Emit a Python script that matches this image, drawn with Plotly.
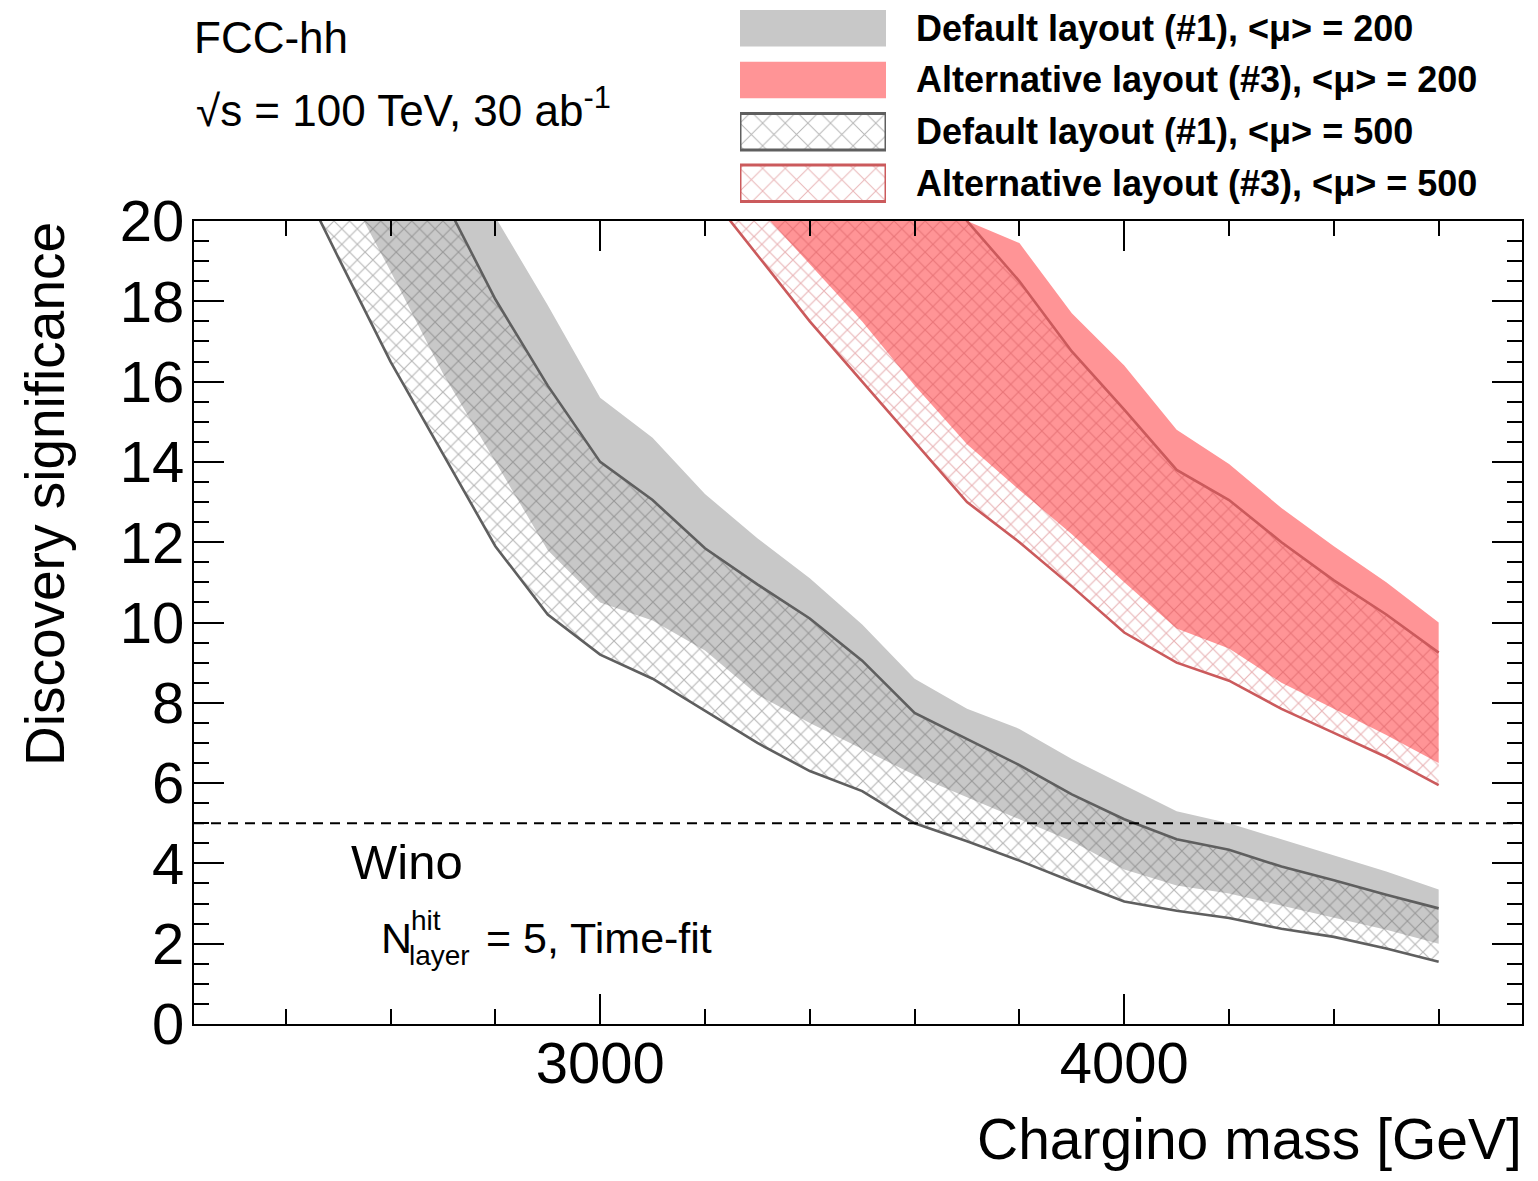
import plotly.graph_objects as go

# page has an 8px body margin: figure fills the rest of the 1538x1181 window
OFF = 8
W, H = 1538 - 2 * OFF, 1181 - 2 * OFF

# ---------------- data ----------------
mass_g200 = [2500, 2600, 2700, 2800, 2900, 3000, 3100, 3200, 3300, 3400, 3500,
             3600, 3700, 3800, 3900, 4000, 4100, 4200, 4300, 4400, 4500, 4600]
g200_lo = [21.2, 18.75, 16.2, 14.0, 11.8, 10.5, 10.05, 9.3, 8.2, 7.5, 6.85,
           6.2, 5.65, 5.1, 4.55, 3.85, 3.45, 3.25, 2.95, 2.65, 2.35, 2.0]
g200_hi = [27.0, 24.6, 22.4, 20.1, 17.9, 15.6, 14.6, 13.2, 12.1, 11.1, 9.95,
           8.6, 7.85, 7.35, 6.6, 5.95, 5.3, 5.0, 4.6, 4.2, 3.8, 3.35]

mass_g500 = [2400, 2500, 2600, 2700, 2800, 2900, 3000, 3100, 3200, 3300, 3400, 3500,
             3600, 3700, 3800, 3900, 4000, 4100, 4200, 4300, 4400, 4500, 4600]
g500_lo = [21.75, 19.1, 16.5, 14.2, 11.9, 10.2, 9.2, 8.6, 7.8, 7.0, 6.3, 5.8,
           5.0, 4.55, 4.07, 3.55, 3.05, 2.82, 2.64, 2.37, 2.17, 1.88, 1.55]
g500_hi = [27.5, 25.3, 23.0, 20.6, 18.05, 15.9, 14.0, 13.05, 11.85, 10.95, 10.1, 9.05,
           7.75, 7.1, 6.45, 5.72, 5.1, 4.6, 4.34, 3.92, 3.58, 3.22, 2.88]

mass_r200 = [3300, 3400, 3500, 3600, 3700, 3800, 3900, 4000, 4100, 4200, 4300, 4400, 4500, 4600]
r200_lo = [20.35, 18.93, 17.5, 15.9, 14.44, 13.3, 12.2, 11.0, 9.85, 9.35, 8.5, 7.85, 7.2, 6.5]
r200_hi = [27.0, 25.5, 23.5, 21.8, 20.0, 19.45, 17.7, 16.4, 14.8, 13.95, 12.85, 11.9, 11.0, 10.0]

mass_r500 = [3200, 3300, 3400, 3500, 3600, 3700, 3800, 3900, 4000, 4100, 4200, 4300, 4400, 4500, 4600]
r500_lo = [20.8, 19.14, 17.5, 16.0, 14.5, 13.0, 12.0, 10.9, 9.75, 9.0, 8.55, 7.85, 7.25, 6.65, 5.95]
r500_hi = [28.0, 26.5, 25.0, 23.6, 22.0, 20.0, 18.5, 16.75, 15.3, 13.8, 13.05, 12.0, 11.05, 10.2, 9.25]

legend_labels = ["Default layout (#1), <μ> = 200",
                 "Alternative layout (#3), <μ> = 200",
                 "Default layout (#1), <μ> = 500",
                 "Alternative layout (#3), <μ> = 500"]

discovery_level = 5

# ---------------- styles ----------------
GRAY_FILL = "rgb(200,200,200)"
RED_FILL = "rgb(255,148,150)"
GRAY_LINE = "rgb(95,95,95)"
RED_LINE = "rgb(203,90,92)"
FONT = "Liberation Sans, Arial, Helvetica, sans-serif"

# plot area in window pixels
X0, X1 = 194, 1522
Y0, Y1 = 221, 1024


def px_x(p):
    return (p - OFF) / W


def px_y(p):
    return 1 - (p - OFF) / H


def band(x, lo, hi):
    return list(x) + list(x)[::-1], list(lo) + list(hi)[::-1]


GRAY_HATCH = dict(shape="x", fgcolor="rgb(95,95,95)", fgopacity=0.45,
                  bgcolor="rgba(0,0,0,0)", size=11, solidity=0.2, fillmode="replace")
RED_HATCH = dict(shape="x", fgcolor="rgb(200,70,75)", fgopacity=0.4,
                 bgcolor="rgba(0,0,0,0)", size=11, solidity=0.2, fillmode="replace")

fig = go.Figure()

# solid bands (<mu> = 200)
bx, by = band(mass_g200, g200_lo, g200_hi)
fig.add_trace(go.Scatter(x=bx, y=by, fill="toself", fillcolor=GRAY_FILL,
                         line=dict(width=0), mode="lines", showlegend=False, hoverinfo="skip"))
bx, by = band(mass_r200, r200_lo, r200_hi)
fig.add_trace(go.Scatter(x=bx, y=by, fill="toself", fillcolor=RED_FILL,
                         line=dict(width=0), mode="lines", showlegend=False, hoverinfo="skip"))

# hatched bands (<mu> = 500)
bx, by = band(mass_g500, g500_lo, g500_hi)
fig.add_trace(go.Scatter(x=bx, y=by, fill="toself", fillcolor="rgba(0,0,0,0)",
                         fillpattern=GRAY_HATCH,
                         line=dict(width=0), mode="lines", showlegend=False, hoverinfo="skip"))
bx, by = band(mass_r500, r500_lo, r500_hi)
fig.add_trace(go.Scatter(x=bx, y=by, fill="toself", fillcolor="rgba(0,0,0,0)",
                         fillpattern=RED_HATCH,
                         line=dict(width=0), mode="lines", showlegend=False, hoverinfo="skip"))

# hatched-band border lines
for xs, ys, col in [(mass_g500, g500_lo, GRAY_LINE), (mass_g500, g500_hi, GRAY_LINE),
                    (mass_r500, r500_lo, RED_LINE), (mass_r500, r500_hi, RED_LINE)]:
    fig.add_trace(go.Scatter(x=xs, y=ys, mode="lines", line=dict(color=col, width=2.6),
                             showlegend=False, hoverinfo="skip"))

# 5 sigma dashed line
fig.add_shape(type="line", xref="paper", yref="y", x0=px_x(X0), x1=px_x(X1),
              y0=discovery_level, y1=discovery_level,
              line=dict(color="black", width=1.8, dash="10px,7px"))

# ---------------- custom legend (separate small axes) ----------------
ROW = 51.7
leg_top = 10
fig.update_layout(
    xaxis2=dict(domain=[px_x(740), px_x(886)], range=[0, 1], visible=False,
                fixedrange=True, anchor="y2", automargin=False),
    yaxis2=dict(domain=[px_y(leg_top + 4 * ROW), px_y(leg_top)], range=[4, 0],
                visible=False, fixedrange=True, anchor="x2", automargin=False),
)
box_h = 36.5 / ROW
lg_gray_hatch = dict(GRAY_HATCH, size=16, solidity=0.12)
lg_red_hatch = dict(RED_HATCH, size=16, solidity=0.12)
swatch_styles = [
    dict(fillcolor=GRAY_FILL, line=dict(width=0)),
    dict(fillcolor=RED_FILL, line=dict(width=0)),
    dict(fillcolor="rgba(0,0,0,0)", line=dict(width=3, color=GRAY_LINE), fillpattern=lg_gray_hatch),
    dict(fillcolor="rgba(0,0,0,0)", line=dict(width=3, color=RED_LINE), fillpattern=lg_red_hatch),
]
for i, (lab, st) in enumerate(zip(legend_labels, swatch_styles)):
    fig.add_trace(go.Scatter(x=[0, 1, 1, 0, 0], y=[i, i, i + box_h, i + box_h, i],
                             xaxis="x2", yaxis="y2", mode="lines", fill="toself",
                             showlegend=False, hoverinfo="skip", **st))
    fig.add_annotation(xref="paper", yref="paper", x=px_x(914),
                       y=px_y(leg_top + i * ROW + box_h * ROW / 2),
                       text="<b>" + lab.replace("<", "&lt;").replace(">", "&gt;") + "</b>",
                       showarrow=False, xanchor="left", yanchor="middle",
                       font=dict(family=FONT, size=36, color="black"))

# ---------------- text ----------------
def txt(x, y, s, size, xanchor="left", yanchor="middle", angle=0):
    fig.add_annotation(xref="paper", yref="paper", x=px_x(x), y=px_y(y), text=s,
                       showarrow=False, xanchor=xanchor, yanchor=yanchor, textangle=angle,
                       font=dict(family=FONT, size=size, color="black"))

txt(192, 38, "FCC-hh", 44)
txt(194, 108, "√s = 100 TeV, 30 ab<sup>-1</sup>", 44)
txt(349, 862, "Wino", 49)
txt(379, 938, "N", 43)
txt(409, 920, "hit", 28)
txt(407, 955, "layer", 28)
txt(484, 938, "= 5, Time-fit", 43)
txt(1524, 1173, "Chargino mass [GeV]", 57, xanchor="right", yanchor="bottom")
txt(45, 220, "Discovery significance", 55, xanchor="center", yanchor="top", angle=-90)

# ---------------- axes ----------------
axis_common = dict(showline=True, linecolor="black", linewidth=2.4, mirror="allticks",
                   ticks="inside", ticklen=30, tickwidth=2, tickcolor="black",
                   showgrid=False, zeroline=False, automargin=False,
                   tickfont=dict(family=FONT, size=58, color="black"))
fig.update_layout(
    template="none",
    xaxis=dict(domain=[px_x(X0), px_x(X1)], range=[2225, 4759], tick0=0, dtick=1000,
               minor=dict(ticks="inside", ticklen=15, dtick=200, tick0=0, tickwidth=2,
                          tickcolor="black", showgrid=False),
               ticklabelstandoff=-13, **axis_common),
    yaxis=dict(domain=[px_y(Y1), px_y(Y0)], range=[0, 20], tick0=0, dtick=2,
               minor=dict(ticks="inside", ticklen=15, dtick=0.5, tick0=0, tickwidth=2,
                          tickcolor="black", showgrid=False),
               ticklabelstandoff=-4, **axis_common),
    width=W, height=H, margin=dict(l=0, r=0, t=0, b=0, pad=0),
    plot_bgcolor="white", paper_bgcolor="white", showlegend=False,
)

fig.write_html("out.html")
